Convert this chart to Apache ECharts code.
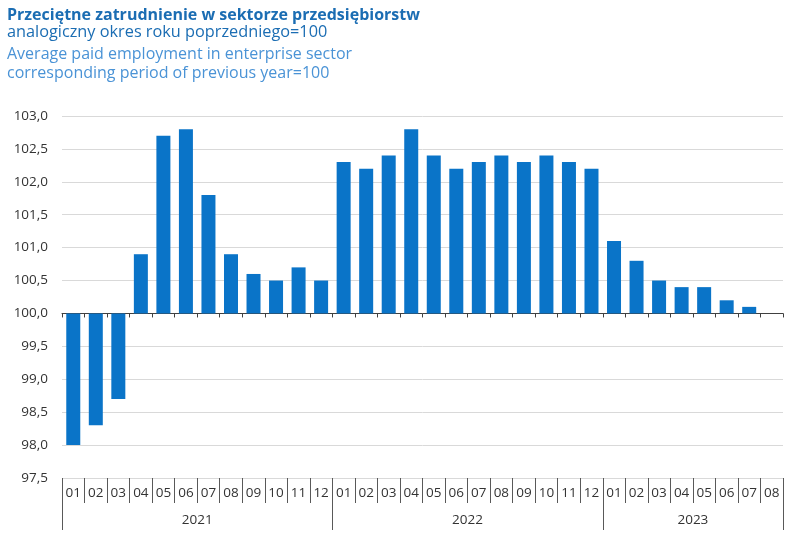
<!DOCTYPE html>
<html>
<head>
<meta charset="utf-8">
<script src="https://cdn.jsdelivr.net/npm/echarts@6/dist/echarts.min.js"></script>
<style>
html,body{margin:0;padding:0;background:#fff;}
#c{width:800px;height:548px;}
</style>
</head>
<body>
<div id="c"></div>
<script>
var titleLines = [
  'Przeciętne zatrudnienie w sektorze przedsiębiorstw',
  'analogiczny okres roku poprzedniego=100',
  'Average paid employment in enterprise sector',
  'corresponding period of previous year=100'
];
var months = ['01','02','03','04','05','06','07','08','09','10','11','12',
              '01','02','03','04','05','06','07','08','09','10','11','12',
              '01','02','03','04','05','06','07','08'];
var years = ['2021','2022','2023'];
var yearBounds = [0, 12, 24, 32];
var yearCenters = [6, 18, 28];
var values = [98.0, 98.3, 98.7, 100.9, 102.7, 102.8, 101.8, 100.9, 100.6, 100.5, 100.7, 100.5,
              102.3, 102.2, 102.4, 102.8, 102.4, 102.2, 102.3, 102.4, 102.3, 102.4, 102.3, 102.2,
              101.1, 100.8, 100.5, 100.4, 100.4, 100.2, 100.1, null];
var baseValue = 100;
var yMin = 97.5, yMax = 103.0, yStep = 0.5;

var font = '"Open Sans", "Noto Sans", sans-serif';
var chart = echarts.init(document.getElementById('c'));
chart.setOption({
  animation: false,
  textStyle: {fontFamily: font},
  title: [
    {text: titleLines[0], left: 7, top: 7, padding: 0, textStyle: {fontFamily: font, fontSize: 16, fontWeight: 'bold', color: '#1b6db3'}},
    {text: titleLines[1], left: 7, top: 24, padding: 0, textStyle: {fontFamily: font, fontSize: 16.3, fontWeight: 'normal', color: '#1b6db3'}},
    {text: titleLines[2], left: 7, top: 46, padding: 0, textStyle: {fontFamily: font, fontSize: 16, fontWeight: 'normal', color: '#4a93d6'}},
    {text: titleLines[3], left: 7, top: 65, padding: 0, textStyle: {fontFamily: font, fontSize: 16, fontWeight: 'normal', color: '#4a93d6'}}
  ],
  grid: {left: 62, right: 17, top: 116, bottom: 70, containLabel: false},
  xAxis: [
    {
      type: 'category', data: months, position: 'bottom', boundaryGap: true,
      axisLine: {onZero: true, lineStyle: {color: '#404040', width: 1}},
      axisTick: {show: true, length: 4, lineStyle: {color: '#404040'}},
      axisLabel: {show: false}, splitLine: {show: false}
    },
    {
      type: 'category', data: months, position: 'bottom', boundaryGap: true,
      axisLine: {show: false, onZero: false},
      axisTick: {show: true, length: 25, lineStyle: {color: '#595959'}},
      axisLabel: {show: true, interval: 0, margin: 8, fontSize: 13.5, color: '#333', fontFamily: font},
      splitLine: {show: false}
    },
    {
      type: 'value', position: 'bottom', min: 0, max: 32,
      axisLine: {show: false, onZero: false},
      axisTick: {show: true, length: 52, customValues: yearBounds, lineStyle: {color: '#595959'}},
      axisLabel: {show: true, margin: 35, fontSize: 13.5, color: '#333', fontFamily: font,
        customValues: yearCenters,
        formatter: function (v) { var i = yearCenters.indexOf(v); return i >= 0 ? years[i] : ''; }},
      splitLine: {show: false}
    }
  ],
  yAxis: {
    type: 'value', min: yMin - baseValue, max: yMax - baseValue, interval: yStep,
    axisLine: {show: false}, axisTick: {show: false},
    axisLabel: {margin: 14, fontSize: 13.5, color: '#333', fontFamily: font,
      formatter: function (v) { return (v + baseValue).toFixed(1).replace('.', ','); }},
    splitLine: {show: true, lineStyle: {color: '#d9d9d9', width: 1}}
  },
  series: [{
    type: 'bar', xAxisIndex: 0, barWidth: 14,
    itemStyle: {color: '#0a74c8'},
    data: values.map(function (v) { return v == null ? null : +(v - baseValue).toFixed(2); })
  }]
});
</script>
</body>
</html>
